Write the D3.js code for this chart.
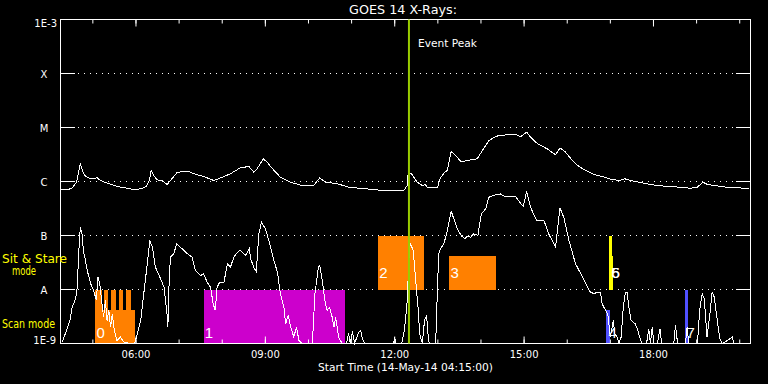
<!DOCTYPE html>
<html><head><meta charset="utf-8">
<script src="https://cdn.jsdelivr.net/npm/d3@7"></script>
<style>body{margin:0;background:#000}svg{display:block}text{font-family:"DejaVu Sans",sans-serif}</style>
</head><body><svg id="c" width="768" height="384"></svg>
<script>
// ---- data (time in decimal UT hours on 14-May-2014, flux in W/m^2) ----
const levelValues = [1e-9, 1e-8, 1e-7, 1e-6, 1e-5, 1e-4, 1e-3];
const levelLabels = ["1E-9", "A", "B", "C", "M", "X", "1E-3"];

const longTime = [4.27,4.41,4.52,4.62,4.66,4.71,4.77,4.83,4.95,5.10,
5.16,5.29,5.56,5.80,5.95,6.11,6.24,6.31,6.35,6.41,
6.49,6.61,6.72,6.80,6.96,7.23,7.34,7.57,7.81,8.00,
8.19,8.42,8.62,8.73,8.81,8.95,9.04,9.20,9.35,9.58,
9.86,10.12,10.26,10.40,10.67,10.94,11.36,11.75,12.21,12.29,
12.31,12.38,12.52,12.64,12.71,12.77,12.99,13.05,13.14,13.22,
13.31,13.41,13.54,13.68,13.91,14.01,14.18,14.34,14.45,14.80,
14.92,15.06,15.15,15.30,15.54,15.73,15.83,15.92,15.96,16.12,
16.27,16.46,16.62,16.81,16.97,17.20,17.34,17.47,17.70,17.93,
18.16,18.39,18.63,18.86,19.01,19.15,19.25,19.48,19.71,20.02,
20.21];
const longFlux = [7.2e-7,7.0e-7,7.6e-7,9.6e-7,1.39e-6,2.13e-6,1.49e-6,1.24e-6,1.12e-6,1.17e-6,
1.07e-6,9.6e-7,8.1e-7,7.5e-7,7.1e-7,7.3e-7,8.1e-7,1.04e-6,1.6e-6,1.29e-6,
1.07e-6,1.04e-6,8.8e-7,1.04e-6,1.49e-6,1.53e-6,1.39e-6,1.24e-6,1.04e-6,1.2e-6,
1.39e-6,1.79e-6,1.9e-6,1.49e-6,1.72e-6,2.63e-6,2.28e-6,1.6e-6,1.2e-6,9.7e-7,
8.4e-7,8.4e-7,1.17e-6,9.7e-7,9.1e-7,7.8e-7,7.3e-7,6.8e-7,6.8e-7,8.4e-7,
1.39e-6,1.44e-6,9.7e-7,8.4e-7,8.7e-7,7.6e-7,7.6e-7,1.12e-6,1.43e-6,1.6e-6,
3.59e-6,3.03e-6,2.32e-6,2.45e-6,2.63e-6,3.49e-6,5.7e-6,6.8e-6,7.2e-6,7.4e-6,
6.8e-6,8.2e-6,6.6e-6,5.1e-6,4.0e-6,3.12e-6,4.17e-6,3.75e-6,3.49e-6,2.45e-6,
1.9e-6,1.55e-6,1.35e-6,1.24e-6,1.12e-6,1.04e-6,1.12e-6,1.04e-6,9.6e-7,8.8e-7,
8.3e-7,8.1e-7,7.8e-7,7.5e-7,7.8e-7,9.7e-7,8.8e-7,8.3e-7,7.8e-7,7.6e-7,
7.3e-7];

const shortTime = [4.29,4.33,4.39,4.47,4.52,4.60,4.64,4.67,4.71,4.75,
4.78,4.83,4.87,4.95,5.02,5.08,5.12,5.16,5.22,5.25,
5.29,5.33,5.37,5.41,5.45,5.50,5.56,5.64,5.72,5.87,
5.97,6.03,6.11,6.18,6.27,6.32,6.38,6.45,6.57,6.65,
6.72,6.74,6.77,6.80,6.88,6.94,7.07,7.19,7.30,7.38,
7.50,7.57,7.65,7.73,7.79,7.84,7.88,7.94,8.04,8.12,
8.19,8.27,8.35,8.42,8.54,8.63,8.66,8.73,8.79,8.85,
8.91,9.00,9.08,9.20,9.28,9.35,9.43,9.47,9.53,9.58,
9.66,9.72,9.78,9.85,10.09,10.15,10.23,10.26,10.32,10.38,
10.43,10.49,10.55,10.59,10.63,10.70,10.78,10.88,10.93,10.97,
11.02,11.07,11.16,11.21,11.25,11.30,11.97,12.00,12.03,12.16,
12.21,12.25,12.29,12.33,12.36,12.38,12.43,12.48,12.54,12.58,
12.64,12.69,12.74,12.77,12.80,12.95,12.99,13.02,13.06,13.14,
13.22,13.28,13.31,13.37,13.45,13.54,13.62,13.68,13.76,13.83,
13.93,13.97,14.01,14.11,14.18,14.34,14.45,14.55,14.80,14.90,
14.98,15.06,15.13,15.21,15.30,15.46,15.57,15.73,15.83,15.92,
16.04,16.19,16.31,16.42,16.52,16.62,16.69,16.77,16.81,16.89,
16.94,17.00,17.07,17.10,17.16,17.20,17.25,17.30,17.35,17.39,
17.43,17.48,17.58,17.64,17.68,17.73,17.84,17.89,17.93,17.97,
18.01,18.09,18.15,18.19,18.47,18.51,18.56,18.74,18.78,18.82,
19.02,19.07,19.13,19.18,19.24,19.30,19.36,19.41,19.48,19.54,
19.60,19.83,19.86,20.25];
const shortFlux = [1.06e-9,1.31e-9,1.74e-9,2.67e-9,4.7e-9,6.7e-9,1.1e-8,4.6e-8,1.43e-7,1.07e-7,
5.3e-8,3.4e-8,2.25e-8,1.28e-8,9.6e-9,6.3e-9,1.69e-8,1.28e-8,4.7e-9,3.07e-9,
6.3e-9,2.67e-9,4.1e-9,2.0e-9,3.5e-9,1.74e-9,1.14e-9,1.31e-9,1.06e-9,1e-9,
1e-9,1.51e-9,2.67e-9,8.3e-9,3.4e-8,8.1e-8,6.1e-8,2.59e-8,1.58e-8,1.1e-8,
3.5e-9,2.0e-9,1.47e-8,3.96e-8,4.6e-8,7.0e-8,5.7e-8,4.6e-8,3.96e-8,2.25e-8,
1.82e-8,1.95e-8,1.36e-8,1.1e-8,5.4e-9,4.1e-9,1.1e-8,1.36e-8,1.36e-8,3.0e-8,
2.59e-8,3.96e-8,4.9e-8,5.3e-8,4.3e-8,5.7e-8,3.7e-8,2.59e-8,2.15e-8,1.07e-7,
1.76e-7,1.33e-7,8.1e-8,3.4e-8,2.09e-8,8.3e-9,4.7e-9,2.3e-9,3.3e-9,2.15e-9,
1.31e-9,2.0e-9,1.14e-9,1e-9,1e-9,8.3e-9,2.59e-8,2.78e-8,1.47e-8,6.3e-9,
4.1e-9,4.7e-9,3.07e-9,2.0e-9,3.07e-9,1.31e-9,1e-9,1e-9,1.53e-9,1e-9,
1.67e-9,1e-9,1.6e-9,1.74e-9,1.24e-9,1e-9,1e-9,1.29e-9,1e-9,1e-9,
1.53e-9,2.67e-9,6.3e-9,3.75e-8,7.1e-8,6.5e-8,5.3e-8,1.69e-8,4.7e-9,1.51e-9,
1e-9,2.67e-9,3.3e-9,1.53e-9,1e-9,1e-9,9.6e-9,4.6e-8,5.7e-8,7.0e-8,
1.24e-7,2.18e-7,2.82e-7,2.04e-7,1.33e-7,1.0e-7,8.7e-8,9.6e-8,9.3e-8,1.07e-7,
1.0e-7,1.65e-7,2.52e-7,3.12e-7,5.1e-7,5.7e-7,5.9e-7,5.3e-7,5.3e-7,4.1e-7,
3.44e-7,6.6e-7,3.86e-7,2.52e-7,1.9e-7,1.9e-7,1.07e-7,6.1e-8,3.26e-7,2.18e-7,
8.1e-8,3.03e-8,1.98e-8,1.36e-8,9.2e-9,8.3e-9,8.9e-9,8.9e-9,5.4e-9,4.1e-9,
3.5e-9,1.31e-9,2.67e-9,1.51e-9,1.31e-9,1e-9,1.31e-9,4.7e-9,8.9e-9,8.9e-9,
4.7e-9,2.67e-9,2.3e-9,1.74e-9,1.31e-9,1e-9,1e-9,1.87e-9,1e-9,2.0e-9,
1e-9,1e-9,1.87e-9,1e-9,1e-9,2.15e-9,1e-9,1e-9,1.98e-9,1e-9,
1e-9,4.1e-9,8.3e-9,6.7e-9,1.31e-9,3.07e-9,8.9e-9,7.2e-9,2.67e-9,1.22e-9,
1e-9,1.31e-9,1e-9,1e-9];

// observation intervals
const obsLabel = ["0","","","","","","1","2","3","4","5","6","7"];
const obsStart = [5.06,5.06,5.25,5.43,5.60,5.77,7.57,11.62,13.27,16.91,16.98,16.98,18.72];
const obsEnd   = [5.97,5.22,5.36,5.53,5.70,5.89,10.84,12.69,14.34,17.00,17.07,17.03,18.79];
const obsLow   = [1e-9,1e-9,1e-9,1e-9,1e-9,1e-9,1e-9,1e-8,1e-8,1e-9,1e-8,1e-8,1e-9];
const obsHigh  = [4.1e-9,1e-8,1e-8,1e-8,1e-8,1e-8,1e-8,1e-7,4.1e-8,4.1e-9,4.1e-8,1e-7,1e-8];
const obsKind  = ["a","a","a","a","a","a","b","a","a","c","d","d","c"];

const eventPeakTime = 12.33;
const titleText = "GOES 14 X-Rays:";
const xTitle = "Start Time (14-May-14 04:15:00)";

// ---- drawing ----
const kindColor = {a:"#ff8000", b:"#cc00cc", c:"#5050ff", d:"#ffff00"};
const svg = d3.select("#c");
svg.append("rect").attr("width",768).attr("height",384).attr("fill","#000");

const base = Date.UTC(2014,4,14);
const toDate = h => new Date(base + h*3600000);
const x = d3.scaleUtc().domain([toDate(4.25), toDate(20.25)]).range([60.5, 750.5]);
const y = d3.scaleLog().domain([1e-9, 1e-3]).range([343.5, 19.5]).clamp(true);

// grid dotted lines
svg.append("g").selectAll("line").data(levelValues.slice(1,-1)).join("line")
  .attr("x1",78).attr("x2",736).attr("y1",d=>y(d)).attr("y2",d=>y(d))
  .attr("stroke","#fff").attr("stroke-dasharray","1,5");

// observation blocks
const obs = obsLabel.map((l,i)=>({l, s:obsStart[i], e:obsEnd[i], lo:obsLow[i], hi:obsHigh[i], k:obsKind[i]}));
svg.append("g").selectAll("rect").data(obs).join("rect")
  .attr("x",d=>x(toDate(d.s))).attr("width",d=>Math.max(1,x(toDate(d.e))-x(toDate(d.s))))
  .attr("y",d=>y(d.hi)).attr("height",d=>y(d.lo)-y(d.hi))
  .attr("fill",d=>kindColor[d.k]).attr("shape-rendering","crispEdges");

// curves
const line = d3.line().x(d=>x(toDate(d[0]))).y(d=>y(d[1]));
svg.append("path").datum(longTime.map((t,i)=>[t,longFlux[i]]))
  .attr("d",line).attr("fill","none").attr("stroke","#fff").attr("stroke-width",1)
  .attr("shape-rendering","crispEdges");
svg.append("path").datum(shortTime.map((t,i)=>[t,shortFlux[i]]))
  .attr("d",line).attr("fill","none").attr("stroke","#fff").attr("stroke-width",1)
  .attr("shape-rendering","crispEdges");

// block labels
svg.append("g").selectAll("text").data(obs.filter(d=>d.l!=="")).join("text")
  .attr("x",d=>x(toDate(d.s))+ (d.k==="c"||d.k==="d"?2:1))
  .attr("y",d=>d.lo>=1e-8 ? 278 : 338)
  .attr("fill","#fff").style("font-family","Liberation Sans, sans-serif").style("font-size","15px")
  .text(d=>d.l);

// frame
svg.append("rect").attr("x",60.5).attr("y",19.5).attr("width",690).attr("height",324)
  .attr("fill","none").attr("stroke","#fff");

// y ticks (inside, both sides)
const yt = svg.append("g");
yt.selectAll("line.l").data(levelValues.slice(1,-1)).join("line").attr("class","l")
  .attr("x1",60).attr("x2",75).attr("y1",d=>y(d)).attr("y2",d=>y(d)).attr("stroke","#fff");
yt.selectAll("line.r").data(levelValues.slice(1,-1)).join("line").attr("class","r")
  .attr("x1",736).attr("x2",751).attr("y1",d=>y(d)).attr("y2",d=>y(d)).attr("stroke","#fff");
yt.selectAll("text").data(levelValues).join("text")
  .attr("fill","#fff").style("font-size","10px")
  .attr("text-anchor",(d,i)=> (i===0||i===levelValues.length-1) ? "end" : "middle")
  .attr("x",(d,i)=> i===0 ? 56 : (i===levelValues.length-1 ? 57 : 44))
  .attr("y",(d,i)=> i===0 ? y(d) : (i===levelValues.length-1 ? y(d)+7 : y(d)+4.5))
  .text((d,i)=>levelLabels[i]);

// x axes
const minorB = d3.axisBottom(x).ticks(d3.utcHour.every(1)).tickSize(-4).tickFormat("").offset(0);
const majorB = d3.axisBottom(x).ticks(d3.utcHour.every(3)).tickSize(-7).tickPadding(7.5)
  .tickFormat(d3.utcFormat("%H:%M")).offset(0);
const minorT = d3.axisTop(x).ticks(d3.utcHour.every(1)).tickSize(-4).tickFormat("").offset(0);
const majorT = d3.axisTop(x).ticks(d3.utcHour.every(3)).tickSize(-7).tickFormat("").offset(0);
[[minorB,343.5],[majorB,343.5],[minorT,19.5],[majorT,19.5]].forEach(([ax,ty])=>{
  const g = svg.append("g").attr("transform",`translate(0,${ty})`).call(ax);
  g.select(".domain").remove();
  g.selectAll("line").attr("stroke","#fff");
  g.selectAll("text").attr("fill","#fff").style("font-size","10px").style("font-family","DejaVu Sans, sans-serif");
});

// event peak line
svg.append("line").attr("x1",x(toDate(eventPeakTime))).attr("x2",x(toDate(eventPeakTime)))
  .attr("y1",19.5).attr("y2",343.5).attr("stroke","#99cc00").attr("stroke-width",2);
svg.append("text").attr("x",418).attr("y",47).attr("fill","#fff").style("font-size","10px")
  .attr("textLength",59).attr("lengthAdjust","spacingAndGlyphs").text("Event Peak");

// title & axis title
svg.append("text").attr("x",349).attr("y",14).attr("fill","#fff").style("font-size","12px")
  .attr("textLength",108).attr("lengthAdjust","spacingAndGlyphs").text(titleText);
svg.append("text").attr("x",318).attr("y",371).attr("fill","#fff").style("font-size","10px")
  .attr("textLength",175).attr("lengthAdjust","spacingAndGlyphs").text(xTitle);

// mode labels
svg.append("text").attr("x",2).attr("y",262.5).attr("fill","#ffff00").style("font-size","12px")
  .attr("textLength",65).attr("lengthAdjust","spacingAndGlyphs").text("Sit & Stare");
svg.append("text").attr("x",12).attr("y",275).attr("fill","#ffff00").style("font-size","12px")
  .attr("textLength",24).attr("lengthAdjust","spacingAndGlyphs").text("mode");
svg.append("text").attr("x",2).attr("y",328).attr("fill","#ffff00").style("font-size","12px")
  .attr("textLength",53).attr("lengthAdjust","spacingAndGlyphs").text("Scan mode");
</script></body></html>
